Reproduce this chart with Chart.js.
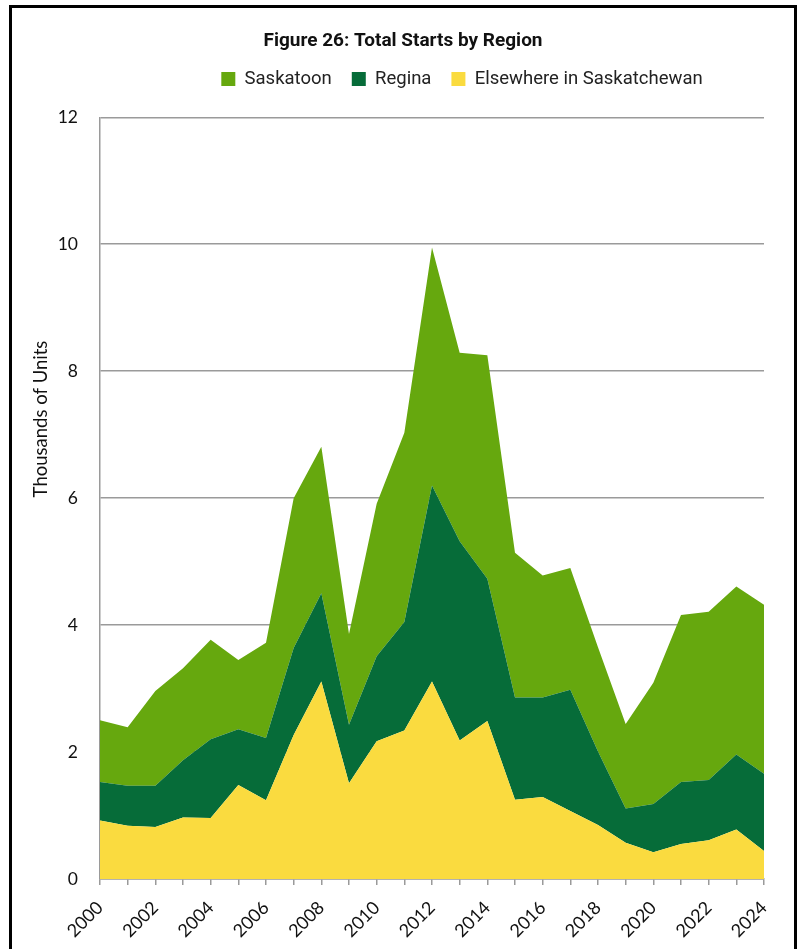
<!DOCTYPE html>
<html>
<head>
<meta charset="utf-8">
<script src="https://cdn.jsdelivr.net/npm/chart.js@4.4.1/dist/chart.umd.min.js"></script>
<style>
  html, body { margin: 0; padding: 0; background: #fff; overflow: hidden; }
  #wrap { position: relative; width: 802px; height: 949px; }
  #frame { position: absolute; left: 9px; top: 5px; width: 788px; height: 1000px; border: 3px solid #000; box-sizing: border-box; pointer-events: none; }
  canvas { position: absolute; left: 0; top: 0; }
</style>
</head>
<body>
<div id="wrap">
  <canvas id="c" width="802" height="949"></canvas>
  <div id="frame"></div>
</div>
<script>
const years = ['2000','2001','2002','2003','2004','2005','2006','2007','2008','2009','2010','2011','2012',
               '2013','2014','2015','2016','2017','2018','2019','2020','2021','2022','2023','2024'];
const elsewhere = [0.92,0.84,0.82,0.97,0.96,1.48,1.24,2.27,3.11,1.51,2.17,2.34,3.11,2.18,2.49,1.25,1.29,1.07,0.85,0.57,0.42,0.55,0.61,0.78,0.44];
const regina    = [0.61,0.63,0.65,0.90,1.24,0.88,0.98,1.37,1.39,0.92,1.34,1.71,3.09,3.14,2.24,1.61,1.57,1.91,1.16,0.54,0.76,0.98,0.95,1.18,1.22];
const saskatoon = [0.97,0.92,1.49,1.45,1.57,1.09,1.50,2.36,2.31,1.43,2.40,2.98,3.75,2.97,3.52,2.28,1.92,1.92,1.64,1.33,1.91,2.63,2.65,2.65,2.66];
const yMin = 0, yMax = 12, yStep = 2;
const chartTitle = 'Figure 26: Total Starts by Region';
const yTitle = 'Thousands of Units';

const COL_SASK = '#66A80E', COL_REG = '#066C39', COL_ELSE = '#FADB3F';
const GRID = '#9a9a9a';

const shiftPlugin = {
  id: 'shiftBlocks',
  afterLayout(chart) {
    const t = chart.titleBlock; if (t) { t.left += 21; t.right += 21; t.top -= 16; t.bottom -= 16; }
    const l = chart.legend; if (l) { l.left += 80; l.right += 80; l.top -= 19; l.bottom -= 19; }
  }
};

const yTitlePlugin = {
  id: 'yTitle',
  afterDraw(chart) {
    const ctx = chart.ctx;
    ctx.save();
    ctx.translate(41.5, 419);
    ctx.rotate(-Math.PI / 2);
    ctx.font = '18.5px Lato';
    ctx.fillStyle = '#111';
    ctx.textAlign = 'center';
    ctx.textBaseline = 'middle';
    ctx.fillText(yTitle, 0, 0);
    ctx.restore();
  }
};

new Chart(document.getElementById('c'), {
  type: 'line',
  data: {
    labels: years,
    datasets: [
      { label: 'Elsewhere in Saskatchewan', data: elsewhere, backgroundColor: COL_ELSE, borderColor: COL_ELSE, fill: 'origin' },
      { label: 'Regina', data: regina, backgroundColor: COL_REG, borderColor: COL_REG, fill: '-1' },
      { label: 'Saskatoon', data: saskatoon, backgroundColor: COL_SASK, borderColor: COL_SASK, fill: '-1' }
    ]
  },
  options: {
    responsive: false,
    animation: false,
    devicePixelRatio: 1,
    elements: { point: { radius: 0, hoverRadius: 0 }, line: { borderWidth: 0, tension: 0 } },
    layout: { padding: { top: 36, left: 0, right: 38, bottom: 0 } },
    plugins: {
      title: {
        display: true, text: chartTitle, color: '#111',
        font: { family: 'Roboto', size: 19, weight: 'bold', lineHeight: 1.2 },
        padding: { top: 10, bottom: 0 }
      },
      legend: {
        display: true, reverse: true,
        labels: {
          color: '#222', boxWidth: 14, boxHeight: 14, padding: 20,
          font: { family: 'Roboto', size: 18.5 }
        }
      },
      tooltip: { enabled: false }
    },
    scales: {
      x: {
        stacked: true,
        offset: false,
        grid: { display: true, drawOnChartArea: false, drawTicks: true, tickLength: 6, color: GRID, tickColor: GRID, lineWidth: 1.5 },
        border: { display: true, color: GRID, width: 1.5 },
        ticks: {
          autoSkip: false, minRotation: 45, maxRotation: 45, padding: 12,
          color: '#111', font: { family: 'Lato', size: 18 },
          callback: function(v) { const y = this.getLabelForValue(v); return (parseInt(y) % 2 === 0) ? y : ''; }
        },
        afterFit(scale) { scale.height = 70; }
      },
      y: {
        stacked: true, min: yMin, max: yMax,
        grid: { color: GRID, lineWidth: 1.5, drawTicks: false },
        border: { display: true, color: GRID, width: 1.5 },
        ticks: { stepSize: yStep, padding: 22, color: '#111', font: { family: 'Lato', size: 17.5 } },
        title: { display: false },
        afterFit(scale) { scale.width = 100; }
      }
    }
  },
  plugins: [shiftPlugin, yTitlePlugin]
});
</script>
</body>
</html>
